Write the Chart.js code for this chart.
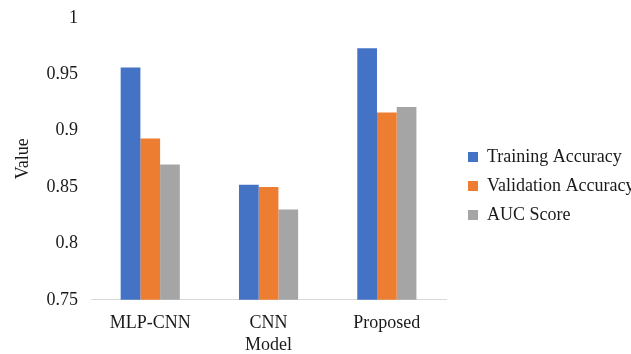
<!DOCTYPE html>
<html>
<head>
<meta charset="utf-8">
<script src="https://cdn.jsdelivr.net/npm/chart.js@4.4.0/dist/chart.umd.min.js"></script>
<style>
  html, body { margin: 0; padding: 0; background: #fff; }
  #wrap { width: 631px; height: 354px; }
</style>
</head>
<body>
<div id="wrap"><canvas id="myChart" width="631" height="354"></canvas></div>
<script>
const models = ['MLP-CNN', 'CNN', 'Proposed'];
const trainingAccuracy = [0.956, 0.852, 0.973];
const validationAccuracy = [0.893, 0.850, 0.916];
const aucScore = [0.870, 0.830, 0.921];

const COLORS = {
    blue: '#4472C4',
    orange: '#ED7D31',
    grey: '#A5A5A5'
};

const FONT = 'Liberation Serif, Times New Roman, serif';
const TEXT = '#1a1a1a';

const data = {
    labels: models,
    datasets: [
        { label: 'Training Accuracy', data: trainingAccuracy, backgroundColor: COLORS.blue },
        { label: 'Validation Accuracy', data: validationAccuracy, backgroundColor: COLORS.orange },
        { label: 'AUC Score', data: aucScore, backgroundColor: COLORS.grey }
    ]
};

const config = {
    type: 'bar',
    data: data,
    options: {
        responsive: false,
        animation: false,
        datasets: {
            bar: { barPercentage: 1, categoryPercentage: 0.5 }
        },
        layout: { padding: { top: 1, left: 7, right: 0, bottom: 0 } },
        plugins: {
            tooltip: { enabled: false },
            legend: {
                position: 'right',
                align: 'center',
                maxWidth: 174,
                // empty title only nudges the items down a little
                title: { display: true, text: '', font: { size: 5 }, padding: { top: 11, bottom: 0 } },
                labels: {
                    boxWidth: 10,
                    boxHeight: 10,
                    padding: 11,
                    color: TEXT,
                    font: { family: FONT, size: 18 }
                }
            }
        },
        scales: {
            x: {
                grid: { display: false, drawTicks: false },
                border: { display: true, color: '#d9d9d9', width: 1 },
                ticks: { color: TEXT, padding: 13, font: { family: FONT, size: 18 } },
                title: { display: true, text: 'Model', color: TEXT, padding: { top: -13, bottom: -2 }, font: { family: FONT, size: 18 } }
            },
            y: {
                min: 0.75,
                max: 1,
                grid: { display: false, drawTicks: false },
                border: { display: false },
                ticks: {
                    stepSize: 0.05,
                    color: TEXT,
                    padding: 13,
                    font: { family: FONT, size: 18, lineHeight: 0.53 },
                    callback: v => String(Number(v.toFixed(2)))
                },
                title: { display: true, text: 'Value', color: TEXT, padding: { top: 5, bottom: 0 }, font: { family: FONT, size: 18 } }
            },
            // blank spacer between plot and legend
            y1: {
                position: 'right',
                display: true,
                grid: { display: false, drawTicks: false },
                border: { display: false },
                ticks: { display: false },
                afterFit: scale => { scale.width = 11; }
            }
        }
    }
};

const myChart = new Chart(document.getElementById('myChart'), config);
</script>
</body>
</html>
